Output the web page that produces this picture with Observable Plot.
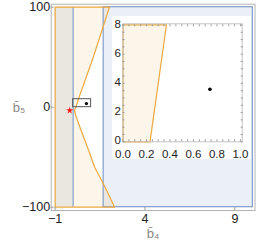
<!DOCTYPE html>
<html><head><meta charset="utf-8">
<script src="https://cdn.jsdelivr.net/npm/d3@7"></script>
<script src="https://cdn.jsdelivr.net/npm/@observablehq/plot@0.6"></script>
<style>
body{margin:0;background:#fff;font-family:"Liberation Sans",Arial,sans-serif;}
#wrap{position:relative;width:258px;height:247px;overflow:hidden;}
#inset{position:absolute;left:112px;top:16px;background:#fff;}
svg{display:block;}
</style></head><body>
<div id="wrap"><div id="main"></div><div id="inset"></div></div>
<script>
// ---- data ----
const curveY = [100, 75, 50, 25, 10, 0, -3.3, -8, -20, -40, -60, -80, -100];
const curveX = [2.02, 1.57, 1.12, 0.63, 0.33, 0.15, 0.08, 0.14, 0.38, 0.8, 1.2, 1.78, 2.31];
const regionLeft = -1;
const blueX1 = [-1, 1.7];
const blueX2 = [0, 10];
const regionY = [-100, 100];
const zoomBoxX = [0, 1];
const zoomBoxY = [0, 8];
const pointX = [0.74];
const pointY = [3.6];
const starX = [-0.19];
const starY = [-3.3];
const mainXTicks = [-1, 4, 9];
const mainYTicks = [-100, 0, 100];
const insetEdgeY = [0, 8];
const insetEdgeX = [0.23, 0.37];
const insetXTicks = [0, 0.2, 0.4, 0.6, 0.8, 1.0];
const insetYTicks = [0, 2, 4, 6, 8];
const xLabel = "b̄₄";
const yLabel = "b̄₅";

const BLUE = "#5e81b5", ORANGE = "#e19c24";
const BLUE_LINE = "#7f9dcb", ORANGE_LINE = "#eda93e";

const curve = curveX.map((x, i) => ({x, y: curveY[i]}));
const polygon = [{x: regionLeft, y: regionY[0]}, {x: regionLeft, y: regionY[1]}, ...curve, {x: regionLeft, y: regionY[0]}];
const blueRects = blueX1.map((x1, i) => ({x1, x2: blueX2[i], y1: regionY[0], y2: regionY[1]}));
const zoomBox = [{x1: zoomBoxX[0], x2: zoomBoxX[1], y1: zoomBoxY[0], y2: zoomBoxY[1]}];

const main = Plot.plot({
  width: 258, height: 247,
  marginLeft: 50.7, marginRight: 3.5, marginTop: 3.7, marginBottom: 37,
  style: {fontFamily: "Liberation Sans, Arial, sans-serif", fontSize: "12px", color: "#222", background: "#fff"},
  x: {domain: [-1.22, 10.12], label: null},
  y: {domain: [-103.3, 103], label: null},
  marks: [
    Plot.rect(blueRects, {x1: "x1", x2: "x2", y1: "y1", y2: "y2", fill: BLUE, fillOpacity: 0.12}),
    Plot.areaX(curve, {x1: regionLeft, x2: "x", y: "y", fill: ORANGE, fillOpacity: 0.1}),
    Plot.rect(blueRects.slice(1), {x1: "x1", x2: "x2", y1: "y1", y2: "y2", fill: null, stroke: BLUE_LINE, strokeWidth: 1.2}),
    Plot.ruleX(blueX2.slice(0, 1), {y1: regionY[0], y2: regionY[1], stroke: BLUE_LINE, strokeWidth: 1.2}),
    Plot.line(polygon, {x: "x", y: "y", stroke: ORANGE_LINE, strokeWidth: 1.2}),
    Plot.rect(zoomBox, {x1: "x1", x2: "x2", y1: "y1", y2: "y2", fill: null, stroke: "#555", strokeWidth: 1}),
    Plot.dot(pointX.map((x, i) => ({x, y: pointY[i]})), {x: "x", y: "y", r: 1.6, fill: "#000", stroke: null}),
    Plot.dot(starX.map((x, i) => ({x, y: starY[i]})), {x: "x", y: "y", r: 2.2, symbol: "star", fill: "#ff1a1a", stroke: null}),
    Plot.frame({stroke: "#b3b3b3"}),
    Plot.axisX(mainXTicks, {anchor: "bottom", tickSize: 3, dy: -3, stroke: "#999", tickFormat: () => "", label: null}),
    Plot.axisY(mainYTicks, {anchor: "left", tickSize: 3, dx: 3, stroke: "#999", tickFormat: () => "", label: null}),
    Plot.axisX(mainXTicks, {anchor: "bottom", tickSize: 0, tickPadding: 4, fontSize: 12.5, fill: "#222", label: null}),
    Plot.axisY(mainYTicks, {anchor: "left", tickSize: 0, tickPadding: 1, fontSize: 12.5, fill: "#222", label: null}),
    Plot.text([xLabel], {frameAnchor: "bottom", dy: 27, text: d => d, fill: "#888", fontSize: 13}),
    Plot.text([yLabel], {frameAnchor: "left", dx: -38.5, text: d => d, fill: "#888", fontSize: 13})
  ]
});
document.getElementById("main").appendChild(main);

const insetPoly = [{x: 0, y: insetEdgeY[0]}, {x: 0, y: insetEdgeY[1]}, {x: insetEdgeX[1], y: insetEdgeY[1]}, {x: insetEdgeX[0], y: insetEdgeY[0]}, {x: 0, y: insetEdgeY[0]}];
const xMinor = d3.range(0, 1.0001, 0.05);
const yMinor = d3.range(0, 8.0001, 0.5);

const inset = Plot.plot({
  width: 139, height: 143,
  marginLeft: 10.5, marginRight: 9.3, marginTop: 7.3, marginBottom: 17.7,
  style: {fontFamily: "Liberation Sans, Arial, sans-serif", fontSize: "11px", color: "#222", background: "#fff"},
  x: {domain: [0, 1.015], label: null},
  y: {domain: [0, 8.08], label: null},
  marks: [
    Plot.line(insetPoly, {x: "x", y: "y", fill: ORANGE, fillOpacity: 0.1, stroke: ORANGE_LINE, strokeWidth: 1.2}),
    Plot.dot(pointX.map((x, i) => ({x, y: pointY[i]})), {x: "x", y: "y", r: 1.8, fill: "#000", stroke: null}),
    Plot.frame({stroke: "#c4c4c4"}),
    Plot.axisX(xMinor, {anchor: "bottom", tickSize: 2, dy: -2, stroke: "#999", tickFormat: () => "", label: null}),
    Plot.axisX(xMinor, {anchor: "top", tickSize: 2, dy: 2, stroke: "#999", tickFormat: () => "", label: null}),
    Plot.axisY(yMinor, {anchor: "left", tickSize: 2, dx: 2, stroke: "#999", tickFormat: () => "", label: null}),
    Plot.axisY(yMinor, {anchor: "right", tickSize: 2, dx: -2, stroke: "#999", tickFormat: () => "", label: null}),
    Plot.axisX(insetXTicks, {anchor: "bottom", tickSize: 0, tickPadding: 8, tickFormat: d3.format(".1f"), fontSize: 11.5, fill: "#222", label: null}),
    Plot.axisY(insetYTicks, {anchor: "left", tickSize: 0, tickPadding: 2, dy: -1, fontSize: 11.5, fill: "#222", label: null})
  ]
});
document.getElementById("inset").appendChild(inset);
</script>
</body></html>
